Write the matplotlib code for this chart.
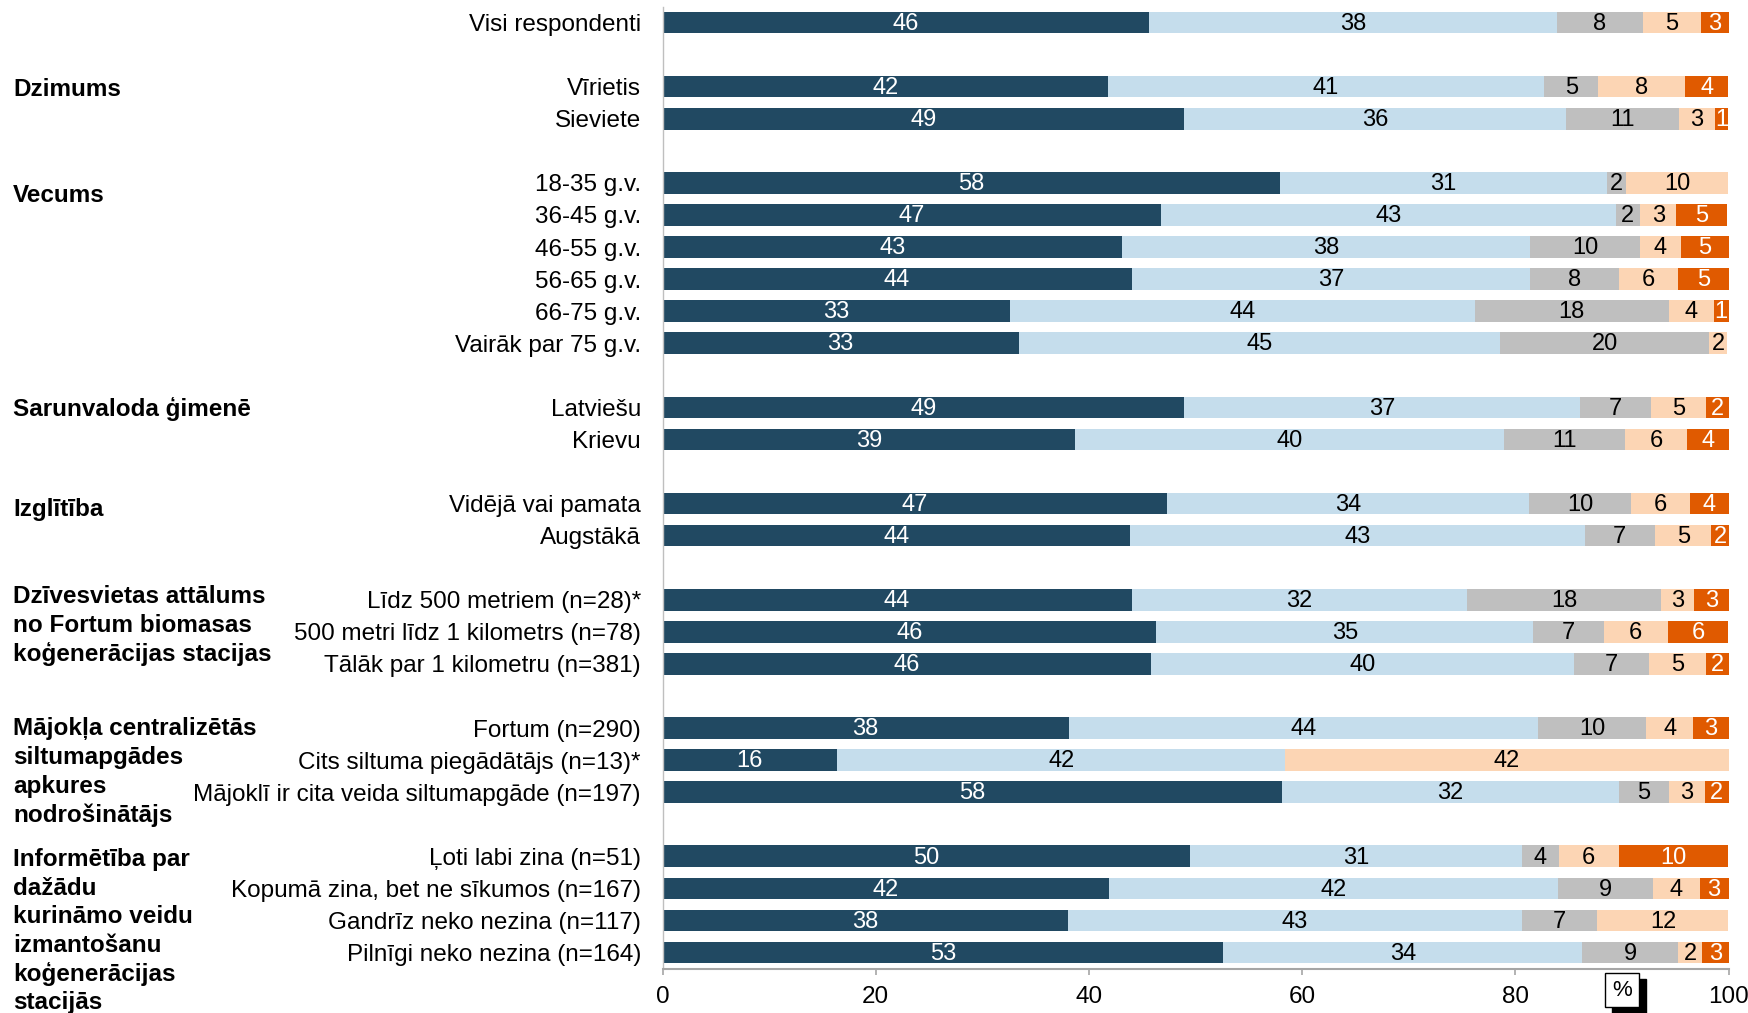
import matplotlib
matplotlib.use("Agg")
import matplotlib.pyplot as plt
from matplotlib.patches import Rectangle
import matplotlib.transforms as mtransforms

# ---------------- data ----------------
categories = [
    "Visi respondenti",
    "Vīrietis", "Sieviete",
    "18-35 g.v.", "36-45 g.v.", "46-55 g.v.", "56-65 g.v.", "66-75 g.v.", "Vairāk par 75 g.v.",
    "Latviešu", "Krievu",
    "Vidējā vai pamata", "Augstākā",
    "Līdz 500 metriem (n=28)*", "500 metri līdz 1 kilometrs (n=78)", "Tālāk par 1 kilometru (n=381)",
    "Fortum (n=290)", "Cits siltuma piegādātājs (n=13)*", "Mājoklī ir cita veida siltumapgāde (n=197)",
    "Ļoti labi zina (n=51)", "Kopumā zina, bet ne sīkumos (n=167)", "Gandrīz neko nezina (n=117)",
    "Pilnīgi neko nezina (n=164)",
]
group_sizes = [1, 2, 6, 2, 2, 3, 3, 4]
group_headers = [
    "",
    "Dzimums",
    "Vecums",
    "Sarunvaloda ģimenē",
    "Izglītība",
    "Dzīvesvietas attālums\nno Fortum biomasas\nkoģenerācijas stacijas",
    "Mājokļa centralizētās\nsiltumapgādes\napkures\nnodrošinātājs",
    "Informētība par\ndažādu\nkurināmo veidu\nizmantošanu\nkoģenerācijas\nstacijās",
]
s_dark = [45.6, 41.8, 48.9, 57.9, 46.8, 43.1, 44.0, 32.6, 33.4, 48.9, 38.7, 47.3, 43.9,
          44.0, 46.3, 45.8, 38.1, 16.4, 58.1, 49.5, 41.9, 38.0, 52.6]
s_light = [38.3, 40.9, 35.9, 30.7, 42.6, 38.3, 37.4, 43.6, 45.2, 37.2, 40.2, 34.0, 42.6,
           31.5, 35.4, 39.7, 44.0, 42.0, 31.6, 31.1, 42.1, 42.6, 33.7]
s_gray = [8.1, 5.1, 10.6, 1.8, 2.3, 10.3, 8.3, 18.2, 19.6, 6.6, 11.4, 9.6, 6.6,
          18.2, 6.6, 7.0, 10.2, 0.0, 4.7, 3.5, 8.9, 7.1, 9.0]
s_peach = [5.4, 8.1, 3.3, 9.6, 3.4, 3.8, 5.6, 4.2, 1.7, 5.2, 5.8, 5.5, 5.3,
           3.1, 6.0, 5.4, 4.4, 41.6, 3.4, 5.6, 4.4, 12.3, 2.2]
s_orange = [2.6, 4.1, 1.3, 0.0, 4.8, 4.6, 4.7, 1.4, 0.0, 2.1, 3.9, 3.6, 1.6,
            3.2, 5.7, 2.1, 3.3, 0.0, 2.2, 10.3, 2.7, 0.0, 2.5]
x_ticks = [0, 20, 40, 60, 80, 100]

series = [s_dark, s_light, s_gray, s_peach, s_orange]
colors = ["#214962", "#C5DDEC", "#BFBFBF", "#FCD5B4", "#E05A00"]
text_colors = ["white", "black", "black", "black", "white"]

FONT = ["Liberation Sans", "DejaVu Sans"]

# ---------------- layout ----------------
W, H = 1748, 1013
fig = plt.figure(figsize=(W / 100, H / 100), dpi=100)
ax = fig.add_axes([662.5 / W, 1 - 968.5 / H, (1728.5 - 662.5) / W, (968.5 - 6.5) / H])

# y positions: one blank row between groups
ypos = []
r = 0
for gs in group_sizes:
    for _ in range(gs):
        ypos.append(r)
        r += 1
    r += 1

bar_h = 0.675
left = [0.0] * len(categories)
for vals, c, tc in zip(series, colors, text_colors):
    ax.barh(ypos, vals, left=left, height=bar_h, color=c, edgecolor="none", zorder=2)
    for y, v, l in zip(ypos, vals, left):
        if v > 0:
            ax.text(l + v / 2, y + 0.04, str(int(v + 0.5)), ha="center", va="center",
                    color=tc, fontsize=17, family=FONT, zorder=3)
    left = [a + b for a, b in zip(left, vals)]

ax.set_xlim(0, 100)
ax.set_ylim(29.5, -0.5)
ax.set_xticks(x_ticks)
ax.set_xticklabels([str(t) for t in x_ticks], fontsize=17.5, family=FONT)
ax.set_yticks(ypos)
ax.set_yticklabels(categories, fontsize=17.5, family=FONT)
ax.tick_params(axis="y", length=0, pad=15.5)
ax.tick_params(axis="x", length=4.5, width=1.2, color="#A6A6A6", pad=8, direction="out")

for side in ["top", "right"]:
    ax.spines[side].set_visible(False)
ax.spines["left"].set_color("#BFBFBF")
ax.spines["left"].set_linewidth(1.0)
ax.spines["bottom"].set_color("#A6A6A6")
ax.spines["bottom"].set_linewidth(1.5)

# group headers (x in figure coords, y in data coords)
trans = mtransforms.blended_transform_factory(fig.transFigure, ax.transData)
header_rows = [None, 2.1, 5.38, 12.06, 15.18, 17.9, 22.03, 26.1]
line_pitch = 0.893
for txt, hr in zip(group_headers, header_rows):
    if not txt:
        continue
    for i, line in enumerate(txt.split("\n")):
        ax.text(13 / W, hr + i * line_pitch, line, transform=trans, ha="left", va="center",
                fontsize=17.5, fontweight="bold", family=FONT, clip_on=False)

# "%" box with shadow
fig.patches.append(Rectangle((1612 / W, 1 - 1013 / H), 34 / W, 34 / H, transform=fig.transFigure,
                             facecolor="black", edgecolor="black", zorder=5))
fig.patches.append(Rectangle((1605 / W, 1 - 1007 / H), 34 / W, 34 / H, transform=fig.transFigure,
                             facecolor="white", edgecolor="black", linewidth=1.0, zorder=6))
fig.text(1622 / W, 1 - 990 / H, "%", ha="center", va="center", fontsize=16,
         family=FONT, zorder=7)

fig.savefig("out.png", dpi=100)
